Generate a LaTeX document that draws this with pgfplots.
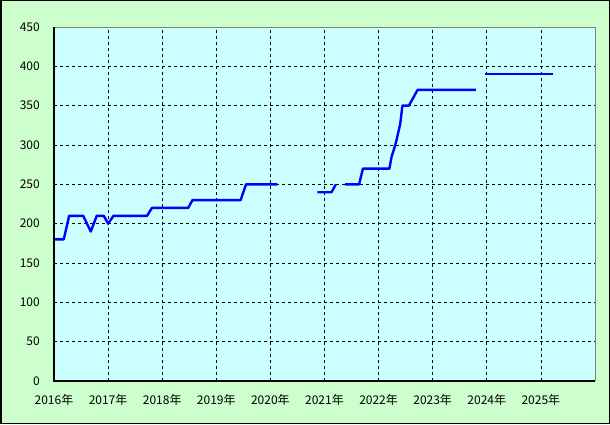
\documentclass[border=0pt]{standalone}
\usepackage{fontspec}
\usepackage{pgfplots}
\pgfplotsset{compat=1.18}
\newfontfamily\jp{Noto Sans CJK JP}
\definecolor{outerbg}{HTML}{CCFFCC}
\definecolor{plotbg}{HTML}{CCFFFF}

\begin{document}
\begin{tikzpicture}
\path[use as bounding box] (0,0) rectangle (610pt,424pt);
\fill[outerbg,draw=black,line width=1.5pt] (0.75pt,0.75pt) rectangle (609.25pt,423.25pt);
\begin{axis}[
  at={(54pt,43pt)}, anchor=south west,
  width=541pt, height=354pt, scale only axis,
  xmin=2016, xmax=2026, ymin=0, ymax=450,
  xtick={2016,...,2025},
  xticklabels={2016年,2017年,2018年,2019年,2020年,2021年,2022年,2023年,2024年,2025年},
  ytick={0,50,...,450},
  axis x line*=bottom, axis y line*=left,
  axis line style={draw=none},
  major tick length=0,
  grid=major,
  major grid style={black,line width=0.7pt,dash pattern=on 3pt off 3pt},
  axis background/.style={fill=plotbg},
  ticklabel style={font=\jp\fontsize{12}{14}\selectfont,inner sep=0pt},
  yticklabel style={anchor=east,xshift=-14pt},
  xticklabel style={anchor=north,yshift=-13pt},
  /pgf/number format/assume math mode=true,
  clip=false,
]
\addplot[blue,line width=2.4pt,line join=round] coordinates {
  (2016.02,180) (2016.18,180) (2016.28,210) (2016.54,210) (2016.68,190)
  (2016.79,210) (2016.92,210) (2017.00,200) (2017.10,210) (2017.72,210)
  (2017.81,220) (2018.48,220) (2018.56,230) (2019.45,230) (2019.55,250)
  (2020.13,250)
};
\addplot[blue,line width=2.4pt,line join=round] coordinates {
  (2020.87,240) (2021.13,240) (2021.21,250)
};
\addplot[blue,line width=2.4pt,line join=round] coordinates {
  (2021.38,250) (2021.64,250) (2021.71,270) (2022.20,270) (2022.24,285)
  (2022.30,298) (2022.33,306) (2022.40,327) (2022.44,350) (2022.56,350)
  (2022.64,360) (2022.72,370) (2023.80,370)
};
\addplot[blue,line width=2.4pt,line join=round] coordinates {
  (2023.96,390) (2025.22,390)
};
\draw[gray,line width=1pt] (rel axis cs:0,1) -- (rel axis cs:1,1) -- (rel axis cs:1,0);
\draw[black,line width=1.2pt] (rel axis cs:0,1) -- (rel axis cs:0,0) -- (rel axis cs:1,0);
\end{axis}
\end{tikzpicture}
\end{document}
